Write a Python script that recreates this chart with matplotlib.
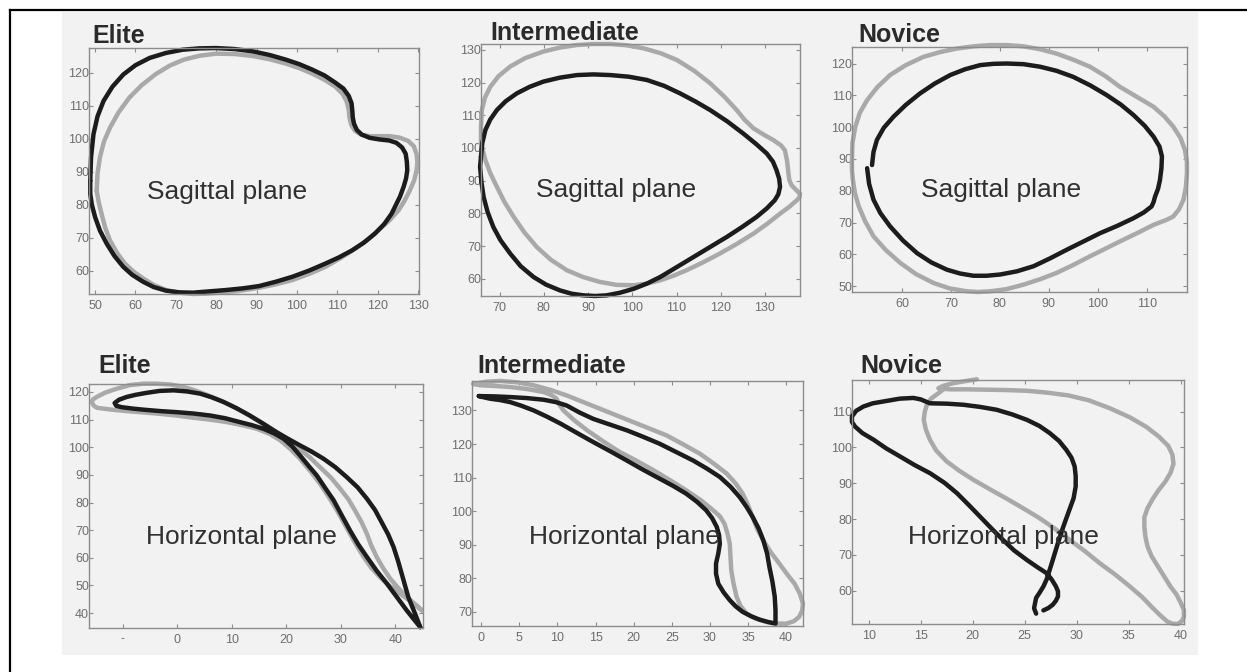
import matplotlib
matplotlib.use('Agg')
import matplotlib.pyplot as plt
from matplotlib.lines import Line2D
from matplotlib.patches import Rectangle

# Hand path traces, (x, y) in cm. Black = first trial, gray = second trial.

# ---- Sagittal plane ----
elite_sag_black = [(48.8, 87.3), (49.0, 94.5), (49.6, 101.4), (50.6, 106.8), (52.1, 111.5),
                   (54.3, 115.8), (57.0, 119.5), (60.0, 122.3), (63.5, 124.5), (67.5, 126.0),
                   (71.7, 127.0), (75.8, 127.4), (79.9, 127.5), (84.5, 127.2), (89.0, 126.5),
                   (93.2, 125.4), (97.2, 124.0), (100.6, 122.6), (103.7, 121.0), (106.8, 119.2),
                   (109.5, 117.0), (111.5, 115.2), (112.8, 113.0), (113.5, 110.8), (113.7, 108.4),
                   (113.8, 106.5), (114.1, 104.6), (114.8, 102.7), (116.0, 101.3), (118.0, 100.3),
                   (120.5, 99.8), (122.8, 99.5), (124.6, 98.8), (126.0, 97.4), (126.9, 95.5),
                   (127.2, 93.0), (127.3, 90.5), (127.0, 88.0), (126.4, 85.5), (125.5, 82.5),
                   (123.4, 77.3), (121.6, 74.2), (119.3, 71.3), (116.6, 68.6), (113.6, 66.2),
                   (110.4, 64.1), (107.0, 62.2), (103.0, 60.1), (98.8, 58.2), (94.7, 56.7),
                   (90.6, 55.4), (86.5, 54.7), (82.4, 54.2), (78.3, 53.8), (74.2, 53.4),
                   (70.8, 53.5), (67.6, 54.0), (64.5, 55.1), (61.9, 56.7), (59.2, 58.8),
                   (57.0, 61.2), (54.8, 64.5), (52.9, 68.2), (51.2, 72.2), (50.0, 76.3),
                   (49.2, 80.0), (48.8, 83.3)]
elite_sag_gray = [(50.4, 84.3), (50.6, 89.5), (51.2, 94.4), (52.2, 99.2), (53.7, 103.4),
                  (55.8, 108.0), (58.5, 112.5), (61.5, 116.2), (65.0, 119.6), (68.5, 122.2),
                  (72.0, 124.0), (76.0, 125.2), (80.0, 125.8), (84.5, 125.7), (89.0, 125.1),
                  (93.2, 124.1), (97.2, 122.8), (100.6, 121.4), (103.7, 119.8), (106.8, 117.9),
                  (109.5, 115.8), (111.3, 113.6), (112.3, 111.3), (112.8, 108.8), (113.0, 106.4),
                  (113.4, 104.3), (114.3, 102.5), (115.8, 101.3), (118.0, 100.8), (120.5, 100.8),
                  (123.0, 100.8), (125.3, 100.4), (127.5, 99.4), (128.9, 97.8), (129.6, 95.4),
                  (129.8, 92.8), (129.6, 90.4), (129.0, 87.4), (127.9, 84.3), (126.6, 81.2),
                  (125.1, 78.3), (122.8, 75.2), (120.1, 72.3), (117.4, 69.4), (114.4, 66.7),
                  (110.8, 63.9), (107.0, 61.2), (103.0, 59.1), (98.8, 57.2), (94.3, 55.8),
                  (89.8, 54.7), (85.3, 53.9), (80.8, 53.4), (77.5, 53.1), (74.2, 53.0),
                  (70.8, 53.4), (67.6, 54.2), (64.6, 55.7), (61.9, 57.7), (59.5, 59.8),
                  (57.4, 62.2), (55.4, 65.5), (53.7, 69.2), (52.5, 73.1), (51.6, 77.3),
                  (50.9, 80.8)]

inter_sag_black = [(65.8, 97.3), (66.1, 101.5), (66.8, 105.5), (67.9, 108.7), (69.4, 111.6),
                   (71.4, 114.3), (73.9, 116.7), (76.8, 118.7), (79.9, 120.3), (83.6, 121.5),
                   (87.5, 122.3), (91.2, 122.5), (95.0, 122.3), (99.2, 121.8), (103.3, 120.8),
                   (107.2, 119.0), (110.8, 116.7), (114.3, 114.2), (117.6, 111.6), (121.5, 108.1),
                   (125.1, 104.4), (128.0, 101.2), (130.4, 98.3), (131.8, 95.8), (132.6, 93.2),
                   (133.2, 90.6), (133.4, 88.1), (133.0, 85.8), (132.2, 84.0), (130.4, 81.5),
                   (128.1, 78.9), (124.8, 75.8), (121.4, 72.8), (117.6, 69.7), (113.8, 66.6),
                   (110.0, 63.5), (106.3, 60.5), (103.3, 58.5), (100.3, 56.9), (97.2, 55.7),
                   (94.2, 54.9), (91.6, 54.7), (89.0, 54.9), (86.3, 55.4), (83.7, 56.4),
                   (80.5, 58.2), (77.7, 60.5), (74.8, 63.8), (72.4, 67.7), (70.2, 71.8),
                   (68.6, 75.8), (67.3, 80.4), (66.4, 85.0), (65.9, 89.6), (65.6, 94.2)]
inter_sag_gray = [(65.8, 101.4), (65.8, 106.5), (66.0, 111.6), (66.7, 115.4), (67.9, 118.7),
                  (69.8, 122.0), (72.4, 124.9), (75.8, 127.5), (79.9, 129.5), (83.6, 130.7),
                  (87.5, 131.5), (91.2, 131.8), (95.0, 131.8), (98.8, 131.4), (102.5, 130.5),
                  (106.4, 129.0), (110.1, 126.9), (114.0, 123.6), (117.6, 119.8), (120.8, 115.7),
                  (123.6, 111.6), (125.4, 108.6), (127.4, 106.0), (129.8, 104.0), (131.9, 102.4),
                  (133.6, 100.8), (134.5, 99.3), (135.0, 96.0), (135.3, 92.2), (135.5, 90.2),
                  (136.0, 88.6), (137.0, 87.2), (137.9, 86.0), (137.8, 84.9), (137.2, 84.0),
                  (135.5, 82.0), (133.4, 79.9), (130.5, 76.8), (127.4, 73.8), (123.7, 70.7),
                  (119.8, 67.7), (116.0, 65.0), (112.3, 62.6), (109.3, 60.9), (106.3, 59.5),
                  (103.3, 58.5), (100.3, 58.0), (96.5, 58.1), (92.7, 59.0), (88.9, 60.5),
                  (85.2, 62.6), (81.6, 65.8), (78.4, 69.7), (75.6, 74.2), (73.2, 78.9),
                  (71.1, 83.5), (69.4, 88.1), (67.9, 92.3), (66.8, 96.3)]

novice_sag_black = [(53.9, 88.1), (54.2, 92.2), (54.9, 96.0), (56.3, 99.8), (58.3, 103.3),
                    (60.8, 107.0), (63.7, 110.6), (66.7, 113.7), (69.9, 116.4), (72.9, 118.2),
                    (76.0, 119.5), (78.7, 119.9), (81.4, 120.0), (84.8, 119.8), (88.2, 119.0),
                    (91.6, 117.7), (95.0, 115.8), (98.5, 113.1), (101.8, 110.1), (104.7, 107.1),
                    (107.3, 103.8), (109.6, 100.4), (111.4, 97.0), (112.6, 93.9), (113.1, 90.8),
                    (113.0, 87.1), (112.7, 83.4), (112.3, 80.6), (111.7, 78.2), (111.4, 76.5),
                    (111.0, 75.1), (109.4, 73.2), (107.3, 71.4), (104.0, 69.0), (100.5, 66.7),
                    (97.1, 64.1), (93.7, 61.5), (90.3, 58.8), (86.9, 56.3), (83.5, 54.7),
                    (80.1, 53.7), (77.3, 53.3), (74.6, 53.3), (71.9, 54.0), (69.2, 55.2),
                    (66.0, 57.5), (63.1, 60.4), (60.2, 64.4), (57.6, 68.8), (55.6, 73.0),
                    (54.2, 77.2), (53.3, 82.2), (52.9, 87.1)]
novice_sag_gray = [(49.8, 89.7), (49.9, 95.0), (50.5, 100.2), (51.4, 104.5), (52.9, 108.5),
                   (55.0, 112.6), (57.6, 116.4), (60.8, 119.5), (64.4, 122.1), (67.8, 123.6),
                   (71.2, 124.7), (74.6, 125.4), (78.0, 125.8), (81.4, 125.8), (84.8, 125.4),
                   (88.2, 124.5), (91.6, 123.1), (95.0, 121.2), (98.4, 119.0), (101.6, 116.0),
                   (104.5, 112.7), (108.0, 109.5), (111.4, 106.4), (113.6, 103.4), (115.4, 100.2),
                   (116.9, 96.6), (117.8, 92.8), (118.2, 89.1), (118.2, 85.5), (118.0, 81.3),
                   (117.5, 77.2), (116.6, 74.2), (115.4, 71.9), (114.1, 70.9), (111.4, 69.3),
                   (108.3, 66.9), (105.2, 64.6), (101.8, 62.0), (98.4, 59.4), (95.0, 56.7),
                   (91.6, 54.2), (88.2, 52.2), (84.8, 50.5), (81.4, 49.1), (78.0, 48.4),
                   (75.6, 48.2), (73.3, 48.4), (69.8, 49.3), (66.5, 51.0), (62.9, 53.8),
                   (59.7, 57.3), (56.7, 61.4), (54.2, 65.7), (52.5, 70.4), (51.2, 75.1),
                   (50.4, 79.3), (50.0, 83.4), (49.8, 86.5)]

# ---- Horizontal plane ----
elite_hor_black = [(44.6, 34.9), (43.5, 40.5), (42.4, 45.8), (41.8, 50.0), (41.2, 54.2),
                   (40.5, 59.0), (39.7, 63.9), (38.7, 68.5), (37.5, 72.9), (36.3, 77.3),
                   (34.8, 81.4), (33.1, 85.5), (31.1, 89.2), (29.0, 92.8), (26.8, 95.9),
                   (24.6, 98.5), (22.5, 100.7), (20.3, 103.1), (18.2, 105.5), (15.8, 108.5),
                   (13.3, 111.5), (10.9, 114.1), (8.5, 116.4), (6.3, 118.1), (4.2, 119.4),
                   (1.8, 120.2), (-0.7, 120.6), (-3.2, 120.4), (-5.6, 119.7), (-7.6, 119.0),
                   (-9.3, 118.2), (-10.7, 117.2), (-11.5, 116.0), (-11.2, 115.0), (-10.2, 114.5),
                   (-8.2, 114.0), (-6.2, 113.6), (-3.2, 113.1), (-0.1, 112.7), (3.0, 112.2),
                   (6.0, 111.5), (8.8, 110.5), (11.5, 109.1), (13.7, 108.0), (15.8, 106.7),
                   (17.8, 105.0), (19.5, 103.1), (21.1, 100.3), (22.5, 97.1), (24.0, 93.5),
                   (25.6, 89.8), (27.1, 85.4), (28.7, 80.8), (30.2, 75.3), (31.7, 69.9),
                   (33.2, 64.9), (34.8, 60.3), (36.6, 55.3), (38.5, 50.6), (40.3, 45.8),
                   (42.1, 41.0), (43.4, 37.8)]
elite_hor_gray = [(44.9, 41.0), (43.6, 43.3), (42.1, 45.8), (40.6, 49.0), (39.1, 52.4),
                  (37.8, 56.2), (36.6, 60.3), (35.6, 64.5), (34.8, 68.7), (33.8, 73.0),
                  (32.6, 77.2), (31.4, 81.2), (29.9, 85.0), (28.2, 89.0), (26.2, 92.8),
                  (24.2, 96.6), (21.9, 100.1), (19.8, 103.2), (17.6, 106.1), (15.2, 109.2),
                  (12.7, 112.1), (10.2, 114.8), (7.8, 117.0), (5.4, 119.0), (2.9, 120.8),
                  (0.8, 122.0), (-1.3, 122.7), (-3.8, 123.0), (-6.2, 123.0), (-8.7, 122.5),
                  (-11.1, 121.2), (-13.2, 119.8), (-14.8, 118.2), (-15.5, 117.3), (-15.7, 116.4),
                  (-15.4, 115.2), (-14.8, 114.3), (-12.0, 113.6), (-9.3, 113.1), (-6.2, 112.6),
                  (-3.2, 112.1), (-0.2, 111.5), (2.9, 110.7), (6.0, 110.0), (9.1, 109.1),
                  (11.9, 108.0), (14.6, 106.7), (17.0, 104.8), (18.9, 102.5), (20.8, 99.3),
                  (22.5, 95.9), (24.4, 91.4), (26.2, 86.8), (27.8, 82.0), (29.3, 77.2),
                  (30.5, 72.9), (31.7, 68.7), (32.9, 64.5), (34.2, 60.3), (35.6, 56.4),
                  (37.2, 53.0), (39.0, 49.8), (40.9, 47.0), (43.0, 44.0)]

inter_hor_black = [(-0.3, 134.3), (1.8, 134.2), (3.8, 134.0), (6.0, 133.7), (8.2, 133.2),
                   (9.8, 132.5), (11.2, 131.5), (12.9, 129.4), (14.7, 127.5), (16.9, 125.8),
                   (19.1, 124.1), (21.2, 122.2), (23.4, 120.1), (25.6, 117.6), (27.8, 115.1),
                   (29.6, 112.7), (31.3, 110.2), (32.7, 107.3), (33.9, 104.2), (34.8, 101.3),
                   (35.6, 98.3), (36.4, 94.8), (37.0, 91.3), (37.5, 87.4), (37.8, 83.4),
                   (38.2, 79.0), (38.5, 74.5), (38.6, 70.5), (38.6, 66.5), (37.6, 67.0),
                   (36.5, 67.7), (35.4, 68.7), (34.3, 70.0), (33.4, 71.6), (32.6, 73.5),
                   (31.8, 75.8), (31.1, 78.4), (30.8, 81.4), (30.8, 84.4), (31.1, 87.4),
                   (31.3, 90.3), (31.2, 92.9), (30.9, 95.3), (30.3, 97.9), (29.5, 100.3),
                   (28.3, 102.8), (26.9, 105.2), (25.2, 107.5), (23.4, 109.7), (21.2, 112.4),
                   (19.1, 115.1), (16.9, 117.9), (14.7, 120.6), (12.5, 123.4), (10.4, 126.1),
                   (8.6, 128.2), (6.9, 130.0), (5.3, 131.4), (3.8, 132.5), (2.5, 133.1),
                   (1.2, 133.5), (0.4, 133.9)]
inter_hor_gray = [(-1.0, 137.9), (0.7, 138.6), (2.5, 138.8), (4.7, 138.4), (6.9, 137.5),
                  (9.0, 136.2), (11.2, 134.5), (13.4, 132.5), (15.6, 130.5), (17.8, 128.5),
                  (20.0, 126.5), (22.1, 124.6), (24.3, 122.6), (26.5, 119.9), (28.7, 117.1),
                  (30.5, 114.2), (32.2, 111.2), (33.4, 108.2), (34.3, 105.2), (35.0, 101.8),
                  (35.6, 98.3), (36.2, 94.7), (37.0, 91.3), (38.0, 87.7), (39.1, 84.4),
                  (40.1, 81.3), (41.1, 78.4), (41.8, 75.4), (42.2, 72.5), (42.1, 70.4),
                  (41.7, 68.5), (41.0, 67.2), (40.0, 66.5), (38.7, 66.5), (37.4, 67.0),
                  (36.0, 68.0), (34.8, 69.5), (34.0, 71.8), (33.5, 74.5), (33.1, 78.4),
                  (32.8, 82.4), (32.7, 86.3), (32.6, 90.3), (32.3, 93.4), (31.9, 96.3),
                  (31.3, 98.5), (30.4, 100.3), (28.8, 103.3), (26.9, 106.2), (24.8, 109.2),
                  (22.6, 112.2), (20.4, 115.0), (18.2, 117.6), (16.0, 120.8), (13.9, 124.1),
                  (12.2, 127.1), (10.8, 130.0), (10.2, 131.9), (9.9, 133.5), (9.2, 134.6),
                  (8.2, 135.5), (6.0, 136.4), (3.8, 137.0), (1.8, 137.3), (-0.1, 137.5)]

novice_hor_black = [(26.1, 53.6), (25.9, 55.1), (26.0, 56.6), (26.1, 58.0), (26.4, 59.3),
                    (26.8, 61.2), (27.1, 63.1), (27.4, 65.8), (27.7, 68.6), (28.1, 72.4),
                    (28.5, 76.1), (28.9, 79.4), (29.3, 82.6), (29.7, 85.8), (29.9, 89.1),
                    (29.9, 92.0), (29.8, 94.7), (29.5, 97.1), (29.0, 99.3), (28.3, 101.8),
                    (27.4, 104.0), (26.4, 106.0), (25.2, 107.7), (23.8, 109.2), (22.3, 110.5),
                    (20.7, 111.3), (19.1, 111.9), (17.5, 112.2), (15.9, 112.3), (15.0, 113.4),
                    (14.3, 113.8), (13.0, 113.6), (11.4, 112.8), (10.4, 112.3), (9.5, 111.4),
                    (8.8, 110.2), (8.4, 108.6), (8.4, 107.1), (8.7, 105.8), (9.4, 104.0),
                    (10.5, 102.1), (11.7, 99.7), (13.0, 97.5), (14.4, 95.1), (15.9, 92.8),
                    (17.3, 90.1), (18.5, 87.2), (19.6, 84.0), (20.7, 80.7), (21.8, 77.4),
                    (22.9, 74.2), (24.0, 71.2), (25.2, 68.6), (26.2, 66.6), (27.1, 64.9),
                    (27.6, 63.1), (28.0, 61.2), (28.2, 59.8), (28.2, 58.4), (28.0, 57.2),
                    (27.7, 56.1), (27.3, 55.2), (26.8, 54.5)]
novice_hor_gray = [(20.4, 119.0), (19.3, 118.5), (18.1, 117.9), (17.2, 117.2), (16.7, 116.5),
                   (17.8, 116.2), (19.4, 116.2), (21.3, 116.1), (23.2, 116.0), (25.2, 115.8),
                   (27.1, 115.3), (29.2, 114.5), (31.2, 113.1), (33.2, 110.9), (35.1, 108.4),
                   (36.7, 105.7), (37.9, 103.0), (38.8, 100.4), (39.2, 97.9), (39.3, 95.4),
                   (39.0, 92.8), (38.5, 90.4), (37.9, 88.2), (37.3, 85.6), (36.8, 83.0),
                   (36.5, 80.5), (36.5, 77.9), (36.6, 75.1), (36.8, 72.4), (37.2, 69.6),
                   (37.8, 66.8), (38.4, 64.0), (39.0, 61.2), (39.6, 58.9), (40.0, 56.6),
                   (40.3, 54.6), (40.3, 52.7), (40.1, 51.5), (39.7, 50.7), (39.2, 50.8),
                   (38.7, 51.4), (38.0, 53.2), (37.3, 55.2), (36.3, 58.2), (35.1, 61.2),
                   (33.7, 64.5), (32.2, 67.7), (30.8, 71.0), (29.3, 74.2), (27.9, 77.3),
                   (26.4, 80.3), (24.8, 83.1), (23.2, 85.8), (21.6, 88.4), (20.1, 90.9),
                   (18.7, 93.5), (17.5, 96.1), (16.5, 99.1), (15.9, 102.1), (15.5, 105.0),
                   (15.3, 107.7), (15.4, 109.9), (15.6, 111.9), (16.0, 113.6), (16.7, 115.1),
                   (17.1, 116.0), (17.5, 116.8)]

# group labels and axis ticks for each panel
titles = ['Elite', 'Intermediate', 'Novice', 'Elite', 'Intermediate', 'Novice']
planes = ['Sagittal plane', 'Horizontal plane']
xticks_list = [list(range(50, 131, 10)), list(range(70, 131, 10)), list(range(60, 111, 10)),
               list(range(-10, 41, 10)), list(range(0, 41, 5)), list(range(10, 41, 5))]
yticks_list = [list(range(60, 121, 10)), list(range(60, 131, 10)), list(range(50, 121, 10)),
               list(range(40, 121, 10)), list(range(70, 131, 10)), list(range(60, 111, 10))]
xtick_labels_hor_elite = ['-', '0', '10', '20', '30', '40']

BLACK = '#1c1c1c'
GRAY = '#a9a9a9'
SCAN = '#f2f2f2'


def xy(pts, closed=True):
    x = [p[0] for p in pts]
    y = [p[1] for p in pts]
    if closed:
        x.append(pts[0][0])
        y.append(pts[0][1])
    return x, y


def panel(fig, rect, black, gray, black_closed, gray_closed, xlim, ylim,
          xticks, yticks, title, tpos, label, lpos, xticklabels=None):
    ax = fig.add_axes(rect)
    ax.set_facecolor(SCAN)
    gx, gy = xy(gray, gray_closed)
    bx, by = xy(black, black_closed)
    ax.plot(gx, gy, color=GRAY, lw=3.2, solid_joinstyle='round', solid_capstyle='round', clip_on=False)
    ax.plot(bx, by, color=BLACK, lw=3.2, solid_joinstyle='round', solid_capstyle='round', clip_on=False)
    ax.set_xlim(*xlim)
    ax.set_ylim(*ylim)
    ax.set_xticks(xticks)
    ax.set_yticks(yticks)
    if xticklabels is not None:
        ax.set_xticklabels(xticklabels)
    ax.tick_params(direction='in', top=True, right=True, length=3, width=0.8,
                   color='#8c8c8c', labelcolor='#6e6e6e', labelsize=9)
    ax.tick_params(axis='y', pad=0)
    ax.tick_params(axis='x', pad=4)
    for s in ax.spines.values():
        s.set_color('#8c8c8c')
        s.set_linewidth(1.0)
    ax.text(tpos[0], tpos[1], title, transform=ax.transAxes, fontsize=18,
            fontweight='bold', color='#2a2a2a', ha='left', va='baseline')
    ax.text(lpos[0], lpos[1], label, transform=ax.transAxes, fontsize=19,
            color='#303030', ha='center', va='center')
    return ax


def main():
    plt.rcParams['font.family'] = ['Liberation Sans', 'DejaVu Sans']
    fig = plt.figure(figsize=(12.47, 6.72), dpi=100)

    # scanned page area and frame
    fig.add_artist(Rectangle((62 / 1247, 1 - 655 / 672), (1198 - 62) / 1247, (655 - 12) / 672,
                             transform=fig.transFigure, facecolor=SCAN, edgecolor='none', zorder=-5))
    fig.add_artist(Line2D([10 / 1247, 10 / 1247], [0, 1 - 10 / 672], color='black', lw=1.6))
    fig.add_artist(Line2D([10 / 1247, 1], [1 - 10 / 672, 1 - 10 / 672], color='black', lw=1.6))

    # top row: sagittal plane
    panel(fig, [0.0714, 0.5625, 0.2646, 0.366], elite_sag_black, elite_sag_gray, True, True,
          (48.5, 130.2), (53.0, 127.5), xticks_list[0], yticks_list[0],
          titles[0], (0.009, 1.020), planes[0], (0.418, 0.415))
    panel(fig, [0.3857, 0.5595, 0.2558, 0.375], inter_sag_black, inter_sag_gray, True, True,
          (65.8, 137.9), (54.7, 131.8), xticks_list[1], yticks_list[1],
          titles[1], (0.028, 1.016), planes[0], (0.423, 0.42))
    panel(fig, [0.6832, 0.5655, 0.2686, 0.3646], novice_sag_black, novice_sag_gray, False, True,
          (49.8, 118.2), (48.2, 125.2), xticks_list[2], yticks_list[2],
          titles[2], (0.018, 1.020), planes[0], (0.445, 0.416))

    # bottom row: horizontal plane
    panel(fig, [0.0714, 0.0655, 0.2678, 0.3631], elite_hor_black, elite_hor_gray, True, True,
          (-16.2, 45.1), (34.6, 122.9), xticks_list[3], yticks_list[3],
          titles[3], (0.027, 1.045), planes[1], (0.455, 0.373),
          xticklabels=xtick_labels_hor_elite)
    panel(fig, [0.3785, 0.0685, 0.2654, 0.3646], inter_hor_black, inter_hor_gray, True, True,
          (-1.2, 42.2), (65.8, 138.8), xticks_list[4], yticks_list[4],
          titles[4], (0.015, 1.033), planes[1], (0.462, 0.363))
    panel(fig, [0.6832, 0.0714, 0.2662, 0.3631], novice_hor_black, novice_hor_gray, False, False,
          (8.4, 40.3), (50.7, 118.8), xticks_list[5], yticks_list[5],
          titles[5], (0.024, 1.029), planes[1], (0.455, 0.357))

    fig.savefig('out.png', dpi=100)


if __name__ == '__main__':
    main()
